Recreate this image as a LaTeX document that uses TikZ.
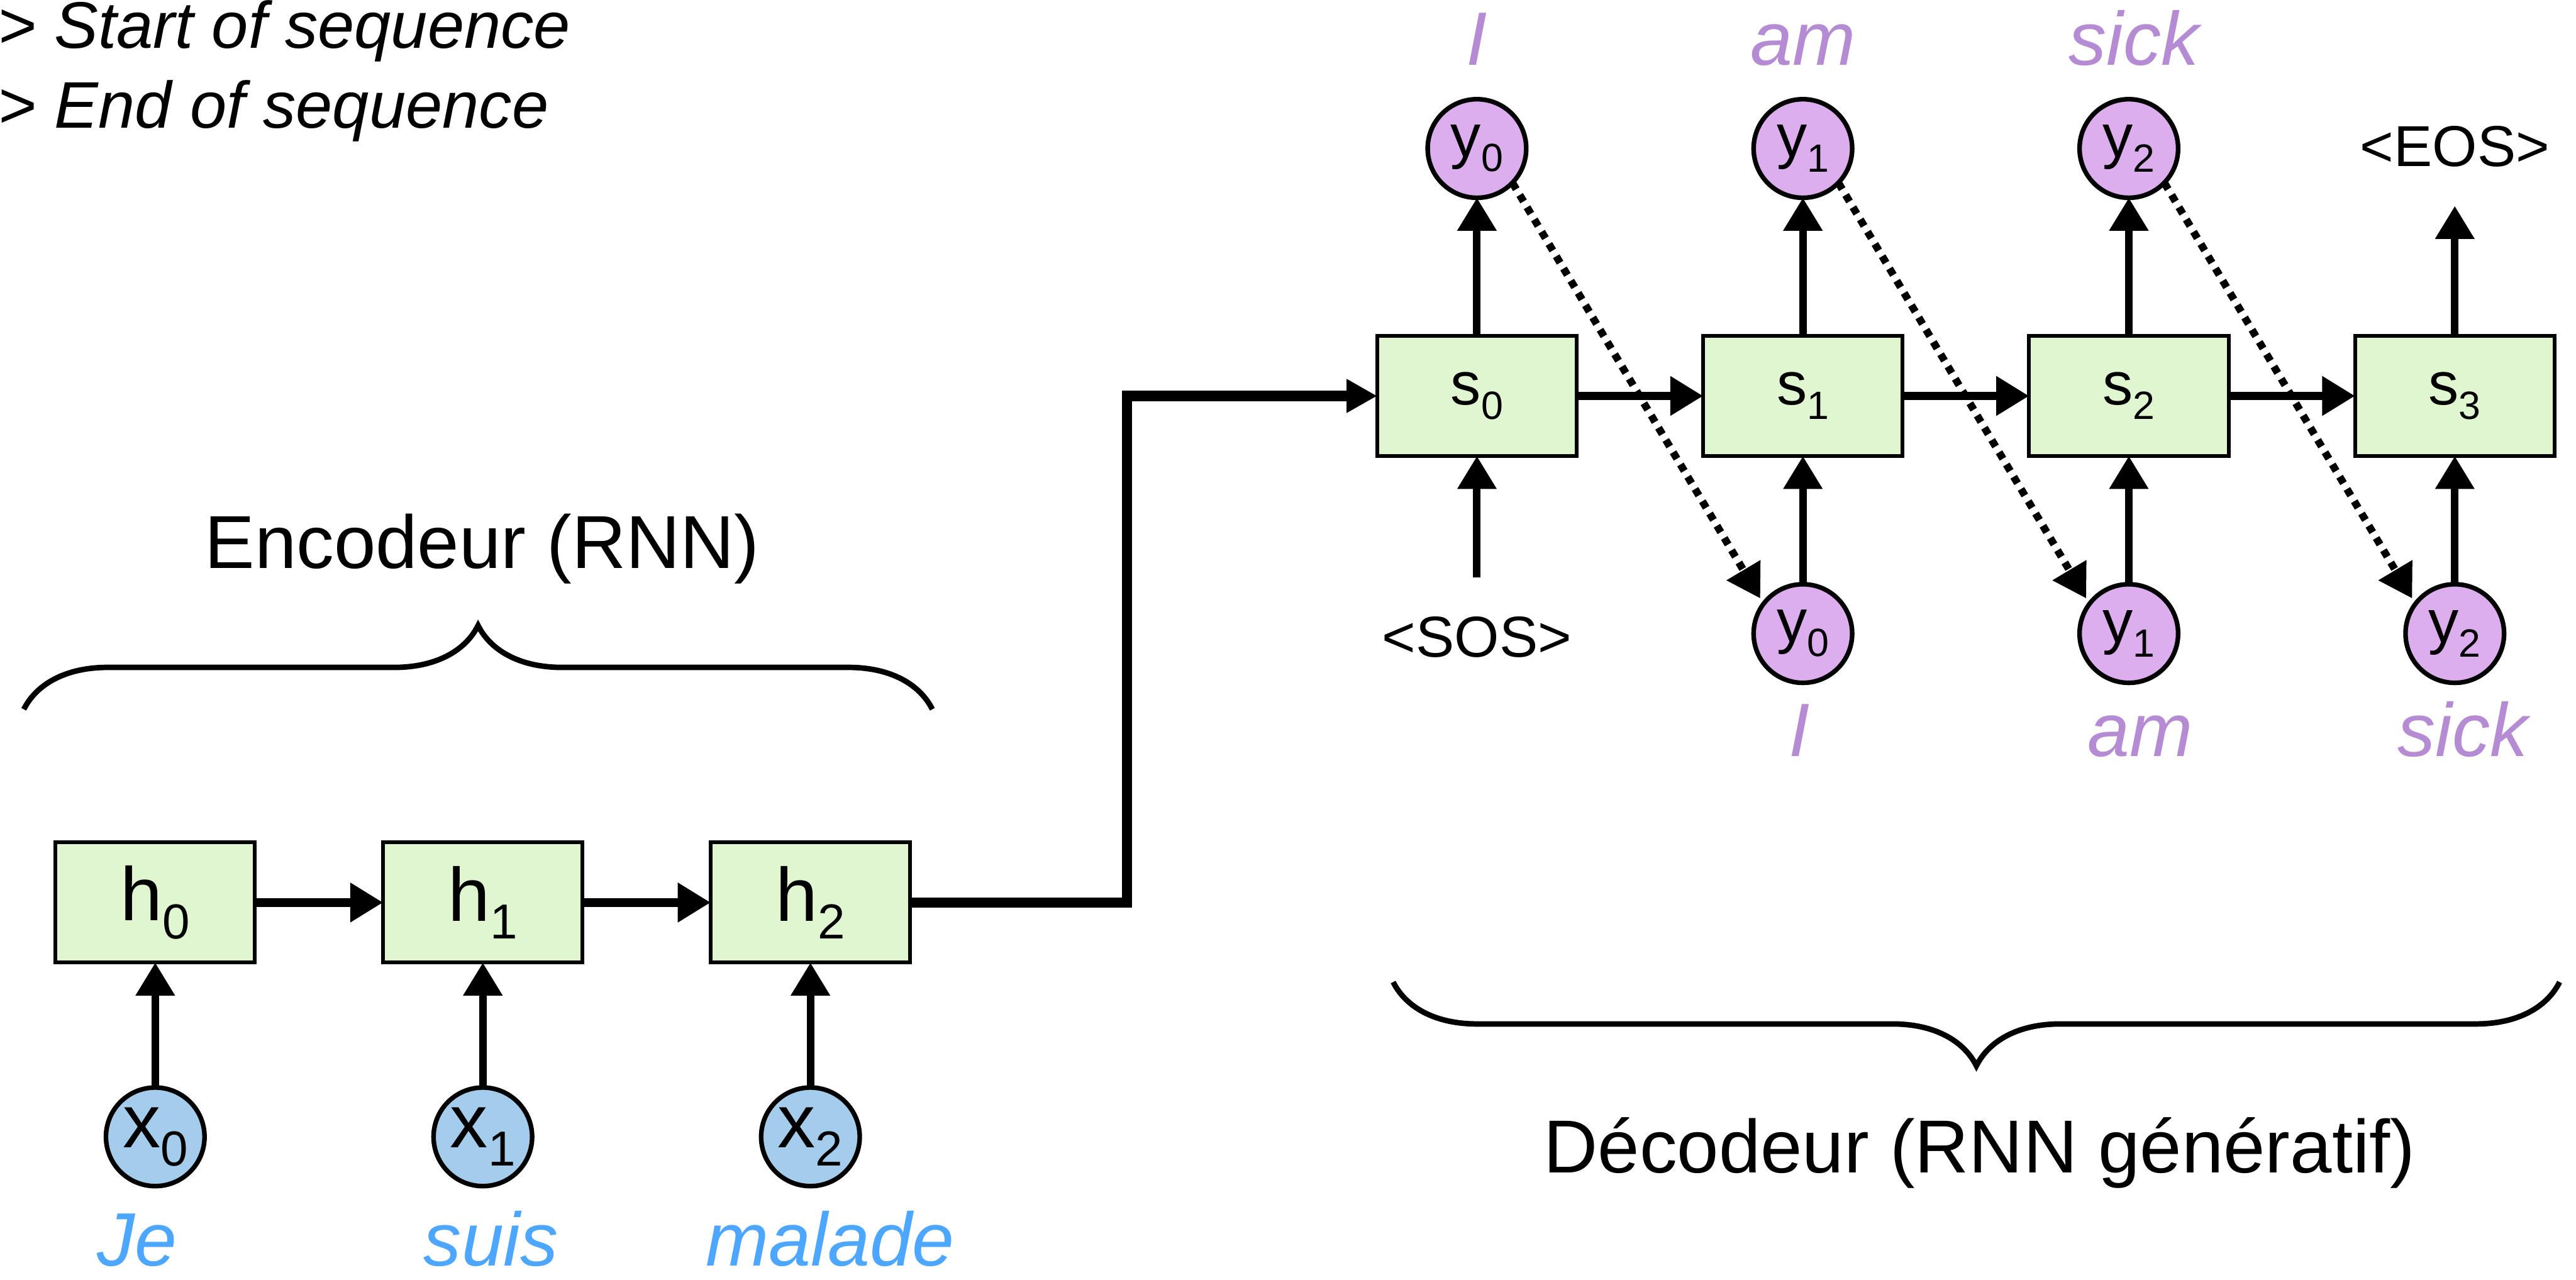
\documentclass[tikz,border=0pt]{standalone}
\usepackage{fontspec}
\setmainfont{Liberation Sans}
\usepackage{xcolor}
\usepackage{graphicx}
\usepackage{tikz}
\usetikzlibrary{arrows.meta,positioning,decorations.pathreplacing}

\definecolor{cellgreen}{RGB}{224,246,208}
\definecolor{inblue}{RGB}{164,205,236}
\definecolor{outviolet}{RGB}{220,174,238}
\definecolor{wordblue}{RGB}{77,166,255}
\definecolor{wordviolet}{RGB}{181,139,211}

\newcommand{\vsub}[2]{#1\raisebox{-0.24em}{\scalebox{0.65}{#2}}}

\begin{document}
\begin{tikzpicture}[
  cell/.style={draw, line width=0.65pt, fill=cellgreen, minimum width=1.214cm, minimum height=0.732cm, inner sep=0pt, outer sep=0pt},
  encfont/.style={font=\fontsize{13.1}{15}\selectfont},
  decfont/.style={font=\fontsize{10.5}{12.5}\selectfont},
  xin/.style={circle, draw, line width=0.8pt, fill=inblue, minimum size=0.6cm, inner sep=0pt, outer sep=0pt},
  yout/.style={circle, draw, line width=0.8pt, fill=outviolet, minimum size=0.6cm, inner sep=0pt, outer sep=0pt},
  word/.style={font=\fontsize{13.1}{15}\selectfont\itshape, inner sep=0pt, text height=0.33cm, text depth=0pt},
  tok/.style={font=\fontsize{10}{12}\selectfont, inner sep=0.23cm},
  title/.style={font=\fontsize{13}{15}\selectfont, anchor=base, inner sep=0pt},
  note/.style={font=\fontsize{11.4}{13}\selectfont\itshape, anchor=base west, inner sep=0pt},
  arrow/.style={-{Triangle[length=5.7pt,width=6.5pt]}, line width=1.3pt},
  harrow/.style={arrow, line width=1.45pt},
  dotarrow/.style={arrow, dash pattern=on 1.3pt off 1.17pt, shorten >=1.1pt},
  brace/.style={decorate, decoration={brace, amplitude=0.51cm}, line width=0.95pt}
]
\useasboundingbox (0,0) rectangle (15.68,7.787);

\node[note] (sosnote) at (-0.02,7.495) {> Start of sequence};
\node[note] (eosnote) at (-0.02,7.007) {> End of sequence};

% encodeur
\node[cell, encfont] (h0) at (0.945,2.294) {\vsub{h}{0}};
\node[cell, encfont, right=0.78cm of h0] (h1) {\vsub{h}{1}};
\node[cell, encfont, right=0.78cm of h1] (h2) {\vsub{h}{2}};
\node[xin, encfont, below=0.76cm of h0] (x0) {\vsub{x}{0}};
\node[xin, encfont, below=0.76cm of h1] (x1) {\vsub{x}{1}};
\node[xin, encfont, below=0.76cm of h2] (x2) {\vsub{x}{2}};
\node[word, text=wordblue, below=0.15cm of x0, xshift=-0.11cm] (je) {Je};
\node[word, text=wordblue, below=0.15cm of x1, xshift=0.05cm] (suis) {suis};
\node[word, text=wordblue, below=0.15cm of x2, xshift=0.12cm] (malade) {malade};

\coordinate (encL) at (0.145,3.47);
\coordinate (encR) at (5.675,3.47);
\draw[brace] (encL) -- (encR);
\node[title] (enctitle) at (2.935,4.33) {Encodeur (RNN)};

% decodeur
\node[cell, decfont] (s0) at (8.99,5.377) {\vsub{s}{0}};
\node[cell, decfont, right=0.77cm of s0] (s1) {\vsub{s}{1}};
\node[cell, decfont, right=0.77cm of s1] (s2) {\vsub{s}{2}};
\node[cell, decfont, right=0.77cm of s2] (s3) {\vsub{s}{3}};
\node[yout, decfont, above=0.84cm of s0] (yt0) {\vsub{y}{0}};
\node[yout, decfont, above=0.84cm of s1] (yt1) {\vsub{y}{1}};
\node[yout, decfont, above=0.84cm of s2] (yt2) {\vsub{y}{2}};
\node[yout, decfont, below=0.78cm of s1] (yb0) {\vsub{y}{0}};
\node[yout, decfont, below=0.78cm of s2] (yb1) {\vsub{y}{1}};
\node[yout, decfont, below=0.78cm of s3] (yb2) {\vsub{y}{2}};
\node[tok, below=0.74cm of s0] (sos) {<SOS>};
\node[tok, above=0.79cm of s3] (eos) {<EOS>};
\node[word, text=wordviolet, above=0.2cm of yt0] (wt0) {I};
\node[word, text=wordviolet, above=0.2cm of yt1] (wt1) {am};
\node[word, text=wordviolet, above=0.2cm of yt2, xshift=0.03cm] (wt2) {sick};
\node[word, text=wordviolet, below=0.11cm of yb0, xshift=-0.02cm] (wb0) {I};
\node[word, text=wordviolet, below=0.11cm of yb1, xshift=0.07cm] (wb1) {am};
\node[word, text=wordviolet, below=0.11cm of yb2, xshift=0.05cm] (wb2) {sick};

\coordinate (decL) at (8.48,1.81);
\coordinate (decR) at (15.58,1.81);
\draw[brace] (decR) -- (decL);
\node[title] (dectitle) at (12.05,0.65) {Décodeur (RNN génératif)};

\draw[harrow] (h0) -- (h1);
\draw[harrow] (h1) -- (h2);
\draw[arrow] (x0) -- (h0);
\draw[arrow] (x1) -- (h1);
\draw[arrow] (x2) -- (h2);

\coordinate (bend) at (6.86,0);
\draw[line width=1.75pt, -{Triangle[length=5.3pt,width=5.5pt]}] (h2.east) -| (bend |- s0.west) -- (s0.west);

\draw[harrow] (s0) -- (s1);
\draw[harrow] (s1) -- (s2);
\draw[harrow] (s2) -- (s3);
\draw[arrow] (s0) -- (yt0);
\draw[arrow] (s1) -- (yt1);
\draw[arrow] (s2) -- (yt2);
\draw[arrow] (s3) -- (eos);
\draw[arrow] (sos) -- (s0);
\draw[arrow] (yb0) -- (s1);
\draw[arrow] (yb1) -- (s2);
\draw[arrow] (yb2) -- (s3);
\draw[dotarrow] (yt0.-44) -- (yb0.143);
\draw[dotarrow] (yt1.-44) -- (yb1.143);
\draw[dotarrow] (yt2.-44) -- (yb2.143);
\end{tikzpicture}
\end{document}
